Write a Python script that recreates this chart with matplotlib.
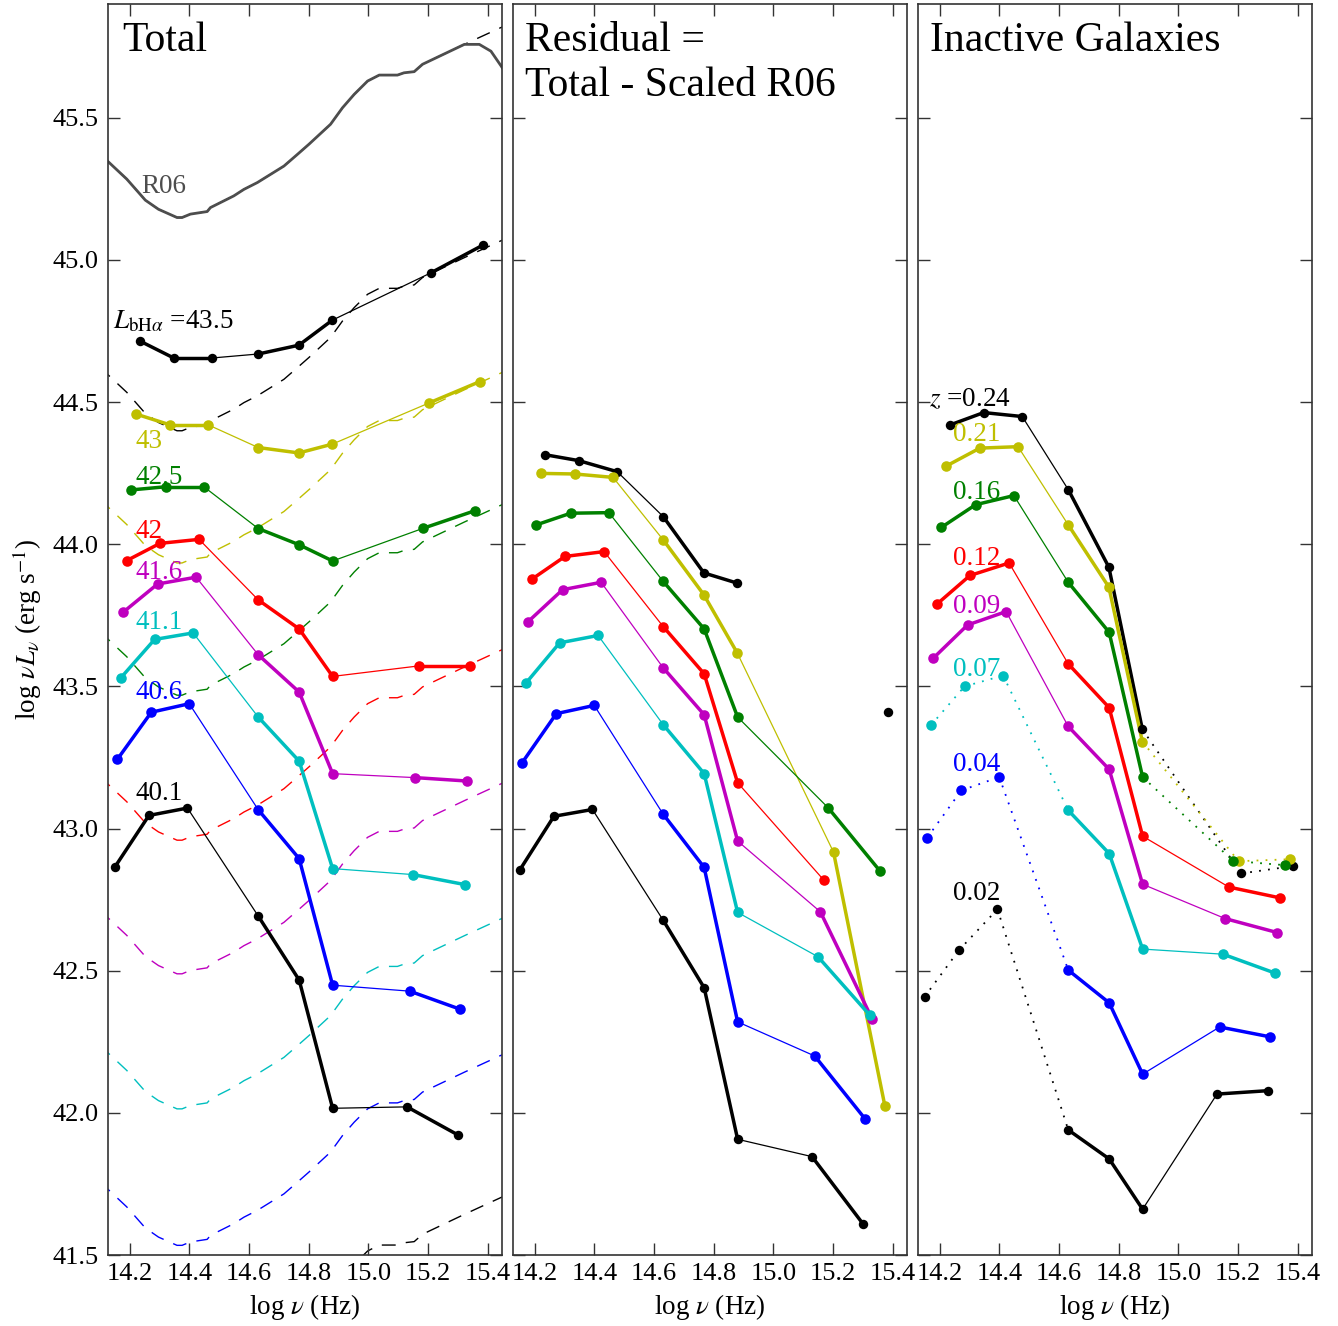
import numpy as np
import matplotlib
matplotlib.use("Agg")
import matplotlib.pyplot as plt

plt.rcParams["font.family"] = ["Liberation Serif", "DejaVu Serif"]
plt.rcParams["mathtext.fontset"] = "stix"

nan = np.nan

# rest-frame log nu of the 8 photometric points, one row per bin (top bin first)
LOGNU = [
    [14.234, 14.348, 14.477, 14.631, 14.767, 14.879, 15.210, 15.385],
    [14.221, 14.335, 14.463, 14.631, 14.767, 14.879, 15.201, 15.373],
    [14.206, 14.321, 14.449, 14.631, 14.768, 14.880, 15.183, 15.357],
    [14.190, 14.302, 14.433, 14.631, 14.768, 14.880, 15.169, 15.340],
    [14.179, 14.294, 14.423, 14.631, 14.768, 14.880, 15.157, 15.331],
    [14.171, 14.284, 14.413, 14.631, 14.768, 14.880, 15.149, 15.322],
    [14.159, 14.273, 14.400, 14.631, 14.768, 14.880, 15.138, 15.308],
    [14.150, 14.265, 14.394, 14.631, 14.768, 14.880, 15.129, 15.300],
]

# log nu L_nu, total
TOTAL = [
    [44.715, 44.655, 44.655, 44.669, 44.700, 44.788, 44.955, 45.053],
    [44.458, 44.420, 44.420, 44.340, 44.321, 44.352, 44.496, 44.572],
    [44.191, 44.202, 44.202, 44.055, 43.998, 43.941, 44.056, 44.118],
    [43.942, 44.003, 44.017, 43.804, 43.702, 43.535, 43.572, 43.572],
    [43.761, 43.860, 43.884, 43.611, 43.480, 43.193, 43.179, 43.167],
    [43.530, 43.665, 43.688, 43.392, 43.237, 42.859, 42.838, 42.803],
    [43.243, 43.409, 43.439, 43.066, 42.894, 42.449, 42.428, 42.364],
    [42.863, 43.046, 43.072, 42.692, 42.467, 42.016, 42.021, 41.922],
]

# residual = total - scaled R06
RESID = [
    [44.315, 44.294, 44.255, 44.097, 43.899, 43.863, nan, 43.409],
    [44.249, 44.247, 44.235, 44.015, 43.822, 43.617, 42.917, 42.024],
    [44.068, 44.109, 44.111, 43.869, 43.702, 43.392, 43.073, 42.850],
    [43.876, 43.957, 43.974, 43.710, 43.544, 43.161, 42.818, nan],
    [43.728, 43.840, 43.866, 43.565, 43.400, 42.956, 42.707, 42.329],
    [43.511, 43.653, 43.679, 43.365, 43.193, 42.705, 42.549, 42.344],
    [43.232, 43.404, 43.433, 43.050, 42.863, 42.320, 42.200, 41.977],
    [42.853, 43.043, 43.067, 42.677, 42.440, 41.907, 41.846, 41.609],
]

# inactive galaxies matched in redshift
INACTIVE = [
    [44.419, 44.463, 44.449, 44.192, 43.919, 43.349, 42.842, 42.868],
    [44.274, 44.338, 44.343, 44.068, 43.849, 43.306, 42.885, 42.892],
    [44.059, 44.139, 44.171, 43.866, 43.690, 43.181, 42.886, 42.871],
    [43.788, 43.890, 43.934, 43.579, 43.425, 42.973, 42.794, 42.756],
    [43.599, 43.716, 43.763, 43.359, 43.208, 42.804, 42.683, 42.634],
    [43.363, 43.500, 43.538, 43.064, 42.912, 42.576, 42.558, 42.492],
    [42.968, 43.134, 43.181, 42.502, 42.387, 42.136, 42.302, 42.267],
    [42.408, 42.572, 42.716, 41.940, 41.838, 41.661, 42.066, 42.078],
]

L_LABELS = ["43.5", "43", "42.5", "42", "41.6", "41.1", "40.6", "40.1"]
Z_LABELS = ["0.24", "0.21", "0.16", "0.12", "0.09", "0.07", "0.04", "0.02"]
COLORS = ["k", "y", "g", "r", "m", "c", "b", "k"]

# Richards et al. 2006 mean quasar SED
R06_NU = [14.10, 14.126, 14.191, 14.253, 14.297, 14.359, 14.376, 14.404, 14.460,
          14.471, 14.549, 14.583, 14.628, 14.717, 14.762, 14.801, 14.873, 14.913,
          14.952, 14.997, 15.036, 15.097, 15.119, 15.153, 15.181, 15.321, 15.371,
          15.410, 15.444, 15.47]
R06_L = [45.373, 45.348, 45.284, 45.210, 45.178, 45.149, 45.149, 45.161, 45.170,
         45.184, 45.225, 45.248, 45.272, 45.330, 45.371, 45.407, 45.477, 45.535,
         45.582, 45.629, 45.650, 45.650, 45.658, 45.662, 45.688, 45.758, 45.758,
         45.734, 45.682, 45.64]
# smooth continuation of the template used for the scaled (dashed) curves
R06_EXT_NU = [15.47]
R06_EXT_L = [45.83]
R06_SHIFT = [0.0, 0.75, 1.215, 1.68, 2.19, 2.66, 3.135, 3.615, 4.115]
SHIFT_COLORS = ["k", "k", "y", "g", "r", "m", "c", "b", "k"]

GROUP = [0, 0, 0, 1, 1, 1, 2, 2]
# panel 3: segments drawn dotted (index i = segment i -> i+1)
DOTTED = {0: [5, 6], 1: [5, 6], 2: [5, 6], 5: [0, 1, 2], 6: [0, 1, 2], 7: [0, 1, 2]}

XLIM = (14.128, 15.447)
YLIM = (41.5, 45.9)


def plot_sed(ax, x, y, color, dotted=()):
    x = np.asarray(x)
    y = np.asarray(y, dtype=float)
    for i in range(len(x) - 1):
        if np.isnan(y[i]) or np.isnan(y[i + 1]):
            continue
        if i in dotted:
            ax.plot(x[i:i + 2], y[i:i + 2], color=color, lw=1.3,
                    linestyle=(0, (1, 4)), zorder=3)
        elif GROUP[i] == GROUP[i + 1]:
            ax.plot(x[i:i + 2], y[i:i + 2], color=color, lw=2.5,
                    solid_capstyle="round", zorder=3)
        else:
            ax.plot(x[i:i + 2], y[i:i + 2], color=color, lw=0.9, zorder=3)
    ms = 6.8 if color == "k" else 7.6
    ax.plot(x, y, "o", color=color, ms=ms, mew=0, zorder=4)


fig = plt.figure(figsize=(13.38, 13.26), dpi=100)
lefts = [108 / 1338, 513 / 1338, 918 / 1338]
axes = [fig.add_axes([l, 71 / 1326, 394 / 1338, 1251 / 1326]) for l in lefts]

for ax in axes:
    ax.set_xlim(*XLIM)
    ax.set_ylim(*YLIM)
    ax.set_xticks(np.arange(14.2, 15.41, 0.2))
    ax.set_xticklabels([f"{v:.1f}" for v in np.arange(14.2, 15.41, 0.2)])
    ax.set_yticks(np.arange(41.5, 45.51, 0.5))
    ax.tick_params(direction="in", top=True, right=True, length=8.5, width=1,
                   labelsize=19, color="0.2")
    ax.tick_params(axis="x", pad=6)
    ax.tick_params(axis="y", pad=7)
    for s in ax.spines.values():
        s.set_color("0.2")
        s.set_linewidth(1.2)
    ax.set_xlabel(r"log $\nu$ (Hz)", fontsize=19.5, labelpad=5)

ax1, ax2, ax3 = axes
ax1.set_yticklabels([f"{v:.1f}" for v in np.arange(41.5, 45.51, 0.5)])
ax1.set_ylabel(r"log $\nu L_\nu$ (erg s$^{-1}$)", fontsize=19.5, labelpad=6)
ax2.set_yticklabels([])
ax3.set_yticklabels([])

# panel 1: scaled R06 templates, R06 itself, and the total SEDs
tmpl_nu = np.array(R06_NU[:26] + R06_EXT_NU)
tmpl_l = np.array(R06_L[:26] + R06_EXT_L)
for sh, c in zip(R06_SHIFT, SHIFT_COLORS):
    ax1.plot(tmpl_nu, tmpl_l - sh, color=c, lw=1.0, dashes=(10, 7.5), zorder=1)
ax1.plot(R06_NU, R06_L, color="#4d4d4d", lw=2.0, zorder=2)
ax1.text(14.238, 45.236, "R06", color="#4d4d4d", fontsize=19.5)

for i in range(8):
    plot_sed(ax1, LOGNU[i], TOTAL[i], COLORS[i])
    plot_sed(ax2, LOGNU[i], RESID[i], COLORS[i])
    plot_sed(ax3, LOGNU[i], INACTIVE[i], COLORS[i], DOTTED.get(i, ()))

l_y = [44.758, 44.339, 44.213, 44.023, 43.879, 43.703, 43.457, 43.099]
for i, (lab, c) in enumerate(zip(L_LABELS, COLORS)):
    if i == 0:
        ax1.text(14.146, l_y[i], r"$L_{{\rm bH}\alpha}$ =" + lab, color=c, fontsize=19.5)
    else:
        ax1.text(14.219, l_y[i], lab, color=c, fontsize=19.5)

z_y = [44.487, 44.364, 44.159, 43.927, 43.758, 43.535, 43.201, 42.75]
for i, (lab, c) in enumerate(zip(Z_LABELS, COLORS)):
    if i == 0:
        ax3.text(14.166, z_y[i], r"$z$ =" + lab, color=c, fontsize=19.5)
    else:
        ax3.text(14.245, z_y[i], lab, color=c, fontsize=19.5)

ax1.text(0.035, 0.9627, "Total", transform=ax1.transAxes, fontsize=30)
ax2.text(0.03, 0.9627, "Residual =", transform=ax2.transAxes, fontsize=30)
ax2.text(0.03, 0.9264, "Total - Scaled R06", transform=ax2.transAxes, fontsize=30)
ax3.text(0.03, 0.9627, "Inactive Galaxies", transform=ax3.transAxes, fontsize=30)

fig.savefig("out.png", dpi=100)
